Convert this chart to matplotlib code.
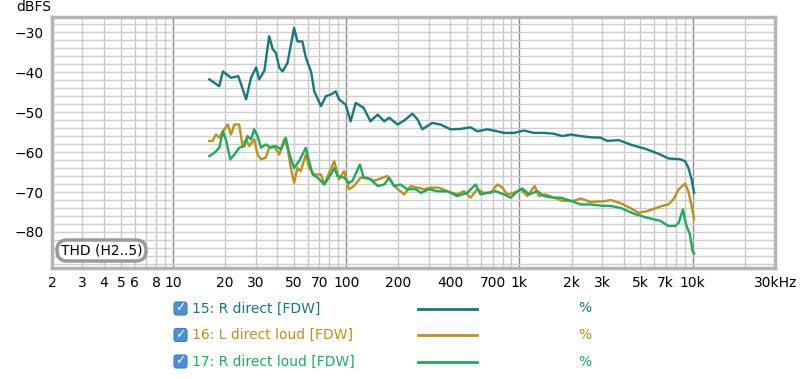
import matplotlib
matplotlib.use("Agg")
import matplotlib.pyplot as plt
from matplotlib.patches import FancyBboxPatch
from matplotlib.lines import Line2D
from matplotlib.transforms import IdentityTransform

# --- data (Hz, dBFS) ---
r_direct_f = [16.2, 18.5, 19.4, 21.6, 23.8, 24.7, 26.4, 28.2, 30.2, 31.4, 33.7, 35.9, 37.6, 39.3,
              41.1, 42.9, 45.8, 50, 52.3, 55.8, 58.5, 62.6, 65.4, 71.5, 76.3, 81.4, 87, 90.9, 99.2,
              106, 113.5, 126, 138, 152, 166, 177, 198, 216, 241, 258, 275, 314, 350, 400, 458,
              523, 571, 653, 746, 815, 930, 1062, 1213, 1385, 1582, 1770, 1978, 2260, 2580, 2950,
              3220, 3750, 4370, 5440, 6500, 7260, 8490, 9060, 9450, 9870, 10200]
r_direct_db = [-41.8, -43.5, -39.8, -41.4, -41.0, -43.0, -46.8, -41.4, -38.8, -41.8, -39.6, -31.0,
               -34.2, -35.2, -38.9, -39.8, -37.7, -28.9, -32.3, -32.3, -36.4, -39.8, -44.8, -48.5,
               -46.0, -45.6, -44.8, -46.8, -48.1, -52.3, -47.7, -48.9, -52.3, -50.6, -52.3, -51.4,
               -53.1, -52.1, -50.4, -51.8, -54.3, -52.7, -53.1, -54.3, -54.2, -53.8, -54.8, -54.3,
               -54.8, -55.2, -55.2, -54.6, -55.2, -55.2, -55.4, -56.0, -55.6, -56.0, -56.3, -56.4,
               -57.2, -57.0, -58.1, -59.3, -60.6, -61.6, -61.8, -62.3, -63.9, -66.8, -70.2]

l_loud_f = [16.2, 16.9, 17.7, 18.5, 19.4, 20.7, 21.6, 22.6, 24.1, 25.2, 26.4, 27.5, 29.4, 30.8,
            32.2, 34.3, 35.9, 38.3, 41.1, 43.8, 45.8, 47.9, 50, 52.3, 54.6, 58.5, 61.1, 65.4, 71.5,
            74.7, 79.7, 85.3, 90.9, 97.2, 103.8, 111, 121, 132, 145, 158, 173, 189, 216, 236, 258,
            282, 307, 343, 383, 438, 478, 523, 571, 624, 682, 746, 797, 851, 930, 1016, 1111, 1225,
            1296, 1417, 1582, 1770, 2070, 2260, 2580, 3070, 3370, 3850, 4370, 4880, 5440, 6080,
            6650, 7260, 7770, 8320, 9060, 9450, 9870, 10200]
l_loud_db = [-57.2, -57.2, -55.6, -56.4, -54.8, -53.1, -55.6, -53.1, -53.1, -58.5, -56.8, -58.5,
             -56.8, -60.6, -61.8, -61.4, -58.9, -58.5, -60.6, -56.8, -58.9, -64.0, -67.7, -64.0,
             -64.8, -60.6, -64.0, -65.6, -65.6, -68.1, -65.2, -62.3, -66.8, -64.8, -69.3, -68.5,
             -66.4, -66.4, -67.2, -66.6, -66.0, -68.5, -70.6, -68.5, -68.9, -69.3, -68.9, -68.9,
             -69.8, -70.6, -69.8, -71.4, -69.3, -70.2, -70.2, -68.1, -68.9, -70.6, -70.2, -69.3,
             -71.0, -68.5, -71.0, -70.6, -71.4, -72.2, -72.2, -71.6, -72.5, -72.3, -72.0, -72.8,
             -74.0, -75.2, -74.8, -74.1, -73.5, -73.1, -71.8, -69.3, -67.9, -69.8, -73.5, -76.8]

r_loud_f = [16.2, 17.3, 18.5, 19.4, 20.3, 21.4, 22.6, 24.1, 25.8, 26.9, 28.2, 29.4, 30.8, 32.2,
            34.3, 36.8, 39.3, 42, 44.8, 46.8, 50, 53.4, 58.5, 61.1, 63.9, 68.3, 74.7, 81.4, 85.3,
            89, 97.2, 103.8, 108.6, 120, 126, 138, 152, 166, 177, 189, 206, 225, 252, 270, 300,
            336, 383, 438, 500, 558, 597, 653, 729, 815, 890, 953, 1039, 1136, 1270, 1385, 1547,
            1730, 1978, 2260, 2580, 2950, 3370, 3850, 4570, 5440, 6500, 7260, 7930, 8320, 8800,
            9160, 9650, 10000, 10200]
r_loud_db = [-61.0, -60.2, -58.9, -54.8, -57.2, -61.8, -60.6, -58.9, -58.5, -56.0, -56.8, -54.3,
             -56.0, -58.9, -58.1, -58.9, -58.5, -59.3, -56.4, -60.2, -64.0, -62.3, -58.9, -62.3,
             -65.6, -66.4, -68.1, -65.6, -64.0, -66.0, -66.4, -67.7, -67.2, -63.1, -66.4, -66.8,
             -68.5, -68.1, -66.4, -68.5, -68.1, -69.3, -69.3, -70.2, -69.3, -69.8, -69.8, -71.0,
             -70.2, -68.1, -70.6, -70.2, -69.8, -70.6, -71.4, -70.2, -69.1, -70.6, -69.8, -71.0,
             -71.4, -71.4, -72.2, -73.1, -73.1, -73.4, -73.5, -74.0, -75.4, -76.4, -77.2, -78.5,
             -78.5, -77.7, -74.3, -78.1, -80.6, -84.8, -85.4]

series_names = ["15: R direct [FDW]", "16: L direct loud [FDW]", "17: R direct loud [FDW]"]
series_colors = ["#16797c", "#bf911c", "#1eab5d"]
series_units = ["%", "%", "%"]

x_ticks = [2, 3, 4, 5, 6, 8, 10, 20, 30, 50, 70, 100, 200, 400, 700,
           1000, 2000, 3000, 5000, 7000, 10000, 30000]
x_labels = ["2", "3", "4", "5", "6", "8", "10", "20", "30", "50", "70", "100", "200", "400", "700",
            "1k", "2k", "3k", "5k", "7k", "10k", "30kHz"]
y_ticks = [-30, -40, -50, -60, -70, -80]

H = 379  # figure height in pixels


def draw_grid(ax):
    for dec in [1, 10, 100, 1000, 10000]:
        for m in range(1, 10):
            f = dec * m
            if f < 2 or f > 30000:
                continue
            if m == 1:
                ax.axvline(f, color="#8a8a8a", lw=1.0, zorder=1)
            else:
                ax.axvline(f, color="#cacaca", lw=1.0, zorder=1)
    for y in range(-88, -26, 2):
        ax.axhline(y, color="#cfcfcf", lw=1.0, zorder=1)


def main():
    fig = plt.figure(figsize=(8, 3.79), dpi=100)
    ax = fig.add_axes([0.065, 0.293, 0.904, 0.662])
    ax.set_xscale("log")
    ax.set_xlim(2, 30000)
    ax.set_ylim(-89, -26.2)
    draw_grid(ax)

    data = [(r_direct_f, r_direct_db), (l_loud_f, l_loud_db), (r_loud_f, r_loud_db)]
    for (f, db), c in zip(data, series_colors):
        ax.plot(f, db, color=c, lw=1.7, zorder=3, solid_joinstyle="round")

    ax.set_xticks(x_ticks)
    ax.set_xticklabels(x_labels, fontsize=10)
    ax.xaxis.set_minor_locator(matplotlib.ticker.NullLocator())
    ax.set_yticks(y_ticks)
    ax.set_yticklabels([str(t).replace("-", "\u2212") for t in y_ticks], fontsize=10)
    ax.tick_params(length=0, pad=6)
    for s in ax.spines.values():
        s.set_color("#b4b4b4")
        s.set_linewidth(2.5)

    fig.text(0.042, 0.982, "dBFS", fontsize=10, ha="center", va="center")

    # THD label, drawn in pixel space (origin bottom-left)
    box = FancyBboxPatch((57, H - 261), 89, 21, boxstyle="round,pad=0,rounding_size=10",
                         transform=IdentityTransform(), facecolor="white",
                         edgecolor="#9a9a9a", lw=2.5, zorder=5)
    fig.patches.append(box)
    fig.text(101.5 / 800, 1 - 250.5 / H, "THD (H2..5)", fontsize=10, ha="center", va="center",
             zorder=6)

    # legend rows
    rows_y = [308.5, 335, 361.5]
    for name, c, u, yy in zip(series_names, series_colors, series_units, rows_y):
        yf = 1 - yy / H
        fig.patches.append(FancyBboxPatch((174, H - yy - 6.5), 13, 13,
                                          boxstyle="round,pad=0,rounding_size=2.5",
                                          transform=IdentityTransform(), facecolor="#4a90d9",
                                          edgecolor="#3c7fc8", lw=0.8))
        fig.text(180.5 / 800, yf + 0.5 / H, "\u2713", color="white", fontsize=9,
                 fontweight="bold", ha="center", va="center")
        fig.text(192 / 800, yf, name, color=c, fontsize=10, ha="left", va="center")
        fig.lines.append(Line2D([418 / 800, 477 / 800], [yf, yf], color=c, lw=2,
                                transform=fig.transFigure))
        fig.text(585 / 800, yf, u, color=c, fontsize=10, ha="center", va="center")

    fig.savefig("out.png", dpi=100)


if __name__ == "__main__":
    main()
